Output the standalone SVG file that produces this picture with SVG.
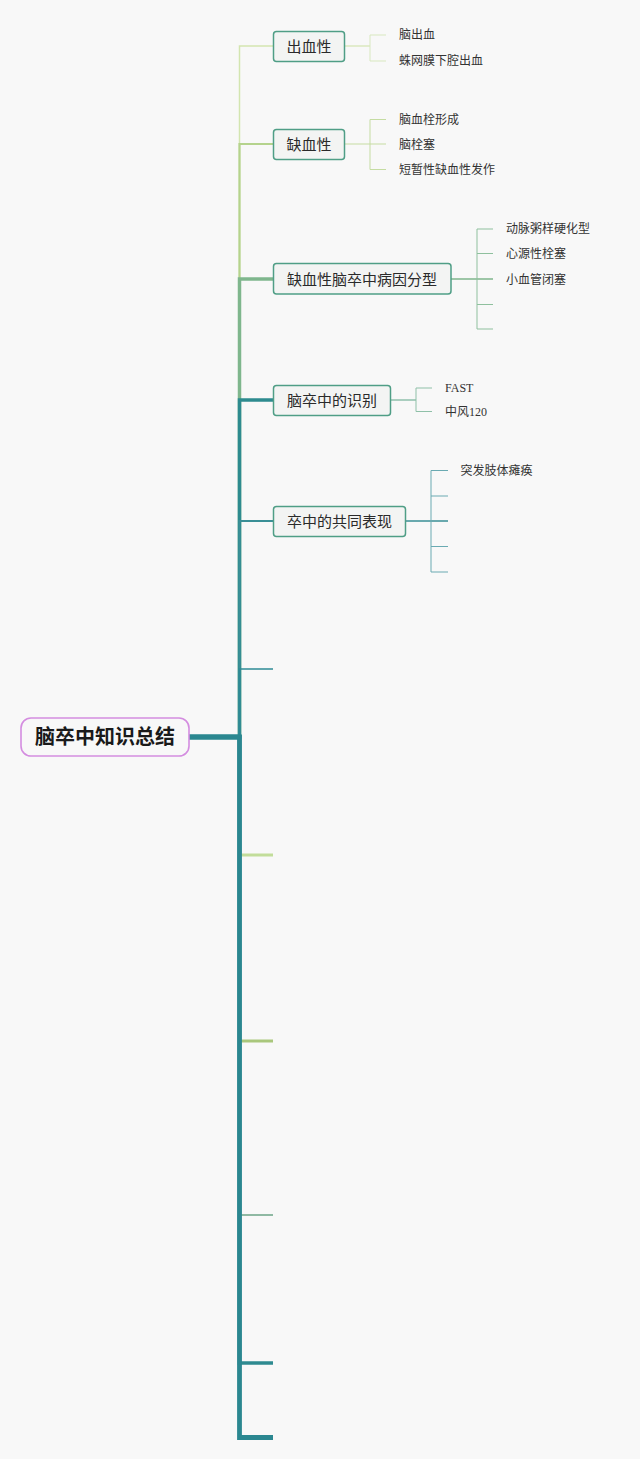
<svg xmlns="http://www.w3.org/2000/svg" width="640" height="1459" viewBox="0 0 640 1459">
<style>
.bg{fill:#f8f8f8}
.node rect{fill:#f3f4f3;stroke:#4f9e86;stroke-width:1.5}
.node text{font-family:"Liberation Sans","Noto Sans CJK SC",sans-serif;font-size:15px;fill:#2a2a2a;dominant-baseline:central;text-anchor:middle}
.root rect{fill:#f8f8f8;stroke:#d48de0;stroke-width:1.6}
.root text{font-family:"Liberation Sans","Noto Sans CJK SC",sans-serif;font-size:20px;font-weight:bold;fill:#1a1a1a;dominant-baseline:central;text-anchor:middle}
.leaf{font-family:"Liberation Serif","Noto Sans CJK SC",serif;font-size:12px;fill:#333;dominant-baseline:central}
#connectors path{fill:none;stroke-linejoin:miter;stroke-linecap:butt}
</style>
<rect class="bg" x="0" y="0" width="640" height="1459"/>
<g id="connectors">
  <!-- upper branches, farthest first -->
  <path d="M189,737 H239.5 V46 H273" stroke="#d3e5b0" stroke-width="1.5"/>
  <path d="M189,737 H239.5 V144 H273" stroke="#b5d38d" stroke-width="2.2"/>
  <path d="M189,737 H239.5 V279 H273" stroke="#7fb68d" stroke-width="3.5"/>
  <path d="M189,737 H239.5 V400 H273" stroke="#2e8b8f" stroke-width="3.5"/>
  <path d="M189,737 H239.5 V521 H273" stroke="#3a8f96" stroke-width="2"/>
  <path d="M189,737 H239.5 V669 H273" stroke="#2e8a95" stroke-width="1.6"/>
  <!-- lower branches, nearest first -->
  <path d="M189,737 H239.5 V855 H273" stroke="#c2dd9a" stroke-width="3"/>
  <path d="M189,737 H239.5 V1041 H273" stroke="#a9c77c" stroke-width="3"/>
  <path d="M189,737 H239.5 V1215 H273" stroke="#8fb9a3" stroke-width="2.2"/>
  <path d="M189,737 H239.5 V1363 H273" stroke="#2e8a90" stroke-width="3.6"/>
  <path d="M189,737 H239.5 V1437.5 H273" stroke="#2b8790" stroke-width="4.8"/>
  <path d="M189,737 H240" stroke="#2b8790" stroke-width="5"/>
  <!-- sub branches: 出血性 -->
  <path d="M345,46 H370" stroke="#d3e5b0" stroke-width="1.2"/>
  <path d="M386,35 H370 V61 H386" stroke="#d8e8bf" stroke-width="1"/>
  <!-- 缺血性 -->
  <path d="M345,144 H386" stroke="#c5dca2" stroke-width="1.2"/>
  <path d="M386,119.5 H370 V169.5 H386" stroke="#c5dca2" stroke-width="1"/>
  <!-- 病因分型 -->
  <path d="M451,279 H493" stroke="#7fb68d" stroke-width="1.3"/>
  <path d="M493,229 H477 V329 H493 M477,253.5 H493 M477,304.5 H493" stroke="#8fc09e" stroke-width="1"/>
  <!-- 识别 -->
  <path d="M391,400 H416" stroke="#7fb6a0" stroke-width="1.3"/>
  <path d="M432,388 H416 V411.5 H432" stroke="#8fc0a8" stroke-width="1"/>
  <!-- 共同表现 -->
  <path d="M406,521 H448" stroke="#3a8f96" stroke-width="1.5"/>
  <path d="M448,470.5 H431 V572 H448 M431,496 H448 M431,546.5 H448" stroke="#6aaab2" stroke-width="1"/>
</g>
<g id="root" class="root">
  <rect x="21" y="718" width="168" height="38" rx="10"/>
  <text x="105" y="737">脑卒中知识总结</text>
</g>
<g id="n1" class="node">
  <rect x="273.5" y="31.5" width="71" height="30" rx="3"/>
  <text x="309" y="46.5">出血性</text>
</g>
<g id="n1c">
  <text class="leaf" x="399" y="35">脑出血</text>
  <text class="leaf" x="399" y="61">蛛网膜下腔出血</text>
</g>
<g id="n2" class="node">
  <rect x="273.5" y="129.5" width="71" height="30" rx="3"/>
  <text x="309" y="144.5">缺血性</text>
</g>
<g id="n2c">
  <text class="leaf" x="399" y="119.5">脑血栓形成</text>
  <text class="leaf" x="399" y="145">脑栓塞</text>
  <text class="leaf" x="399" y="169.5">短暂性缺血性发作</text>
</g>
<g id="n3" class="node">
  <rect x="273.5" y="263.5" width="177.5" height="30.5" rx="3"/>
  <text x="362" y="279">缺血性脑卒中病因分型</text>
</g>
<g id="n3c">
  <text class="leaf" x="506" y="229">动脉粥样硬化型</text>
  <text class="leaf" x="506" y="254">心源性栓塞</text>
  <text class="leaf" x="506" y="279.5">小血管闭塞</text>
</g>
<g id="n4" class="node">
  <rect x="273.5" y="385.5" width="117" height="30" rx="3"/>
  <text x="332" y="400.5">脑卒中的识别</text>
</g>
<g id="n4c">
  <text class="leaf" x="445" y="388">FAST</text>
  <text class="leaf" x="445" y="411.5">中风120</text>
</g>
<g id="n5" class="node">
  <rect x="273.5" y="506.5" width="132" height="30" rx="3"/>
  <text x="339.5" y="521.5">卒中的共同表现</text>
</g>
<g id="n5c">
  <text class="leaf" x="460.5" y="470.5">突发肢体瘫痪</text>
</g>
</svg>
